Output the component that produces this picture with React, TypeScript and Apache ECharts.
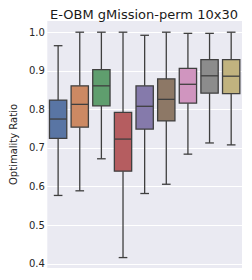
import React, { useEffect, useRef } from "react";
import * as echarts from "echarts";

const categories = ["A", "B", "C", "D", "E", "F", "G", "H", "I"];
const whiskerLow = [0.577, 0.589, 0.672, 0.416, 0.582, 0.606, 0.684, 0.713, 0.708];
const q1 = [0.725, 0.754, 0.809, 0.640, 0.749, 0.770, 0.816, 0.842, 0.841];
const median = [0.775, 0.813, 0.861, 0.723, 0.808, 0.826, 0.865, 0.887, 0.886];
const q3 = [0.824, 0.861, 0.903, 0.792, 0.861, 0.879, 0.906, 0.929, 0.929];
const whiskerHigh = [0.965, 1.0, 1.0, 1.0, 0.992, 1.0, 0.997, 0.997, 1.0];
const colors = ["#5975a4", "#cc8963", "#5f9e6e", "#b55d60", "#857aab", "#8d7866", "#d095bf", "#8c8c8c", "#c1b37f"];
const yTicks = [0.4, 0.5, 0.6, 0.7, 0.8, 0.9, 1.0];

export default function App() {
  const ref = useRef<HTMLDivElement>(null);
  useEffect(() => {
    document.body.style.margin = "0";
    if (!ref.current) return;
    const chart = echarts.init(ref.current, null, { renderer: "svg" });
    const data = categories.map((_, i) => [i, whiskerLow[i], q1[i], median[i], q3[i], whiskerHigh[i]]);
    const edge = "#3f3f3f";
    chart.setOption({
      animation: false,
      title: {
        text: "E-OBM gMission-perm 10x30",
        left: 139,
        textAlign: "center",
        top: 3,
        textStyle: { fontFamily: "DejaVu Sans", fontSize: 13, fontWeight: "normal", color: "#1a1a1a" },
      },
      grid: { left: 38, right: 10, top: 21, bottom: 12, show: true, backgroundColor: "#EAEAF2", borderWidth: 0 },
      xAxis: {
        type: "category",
        data: categories,
        axisLine: { show: false },
        axisTick: { show: false },
        axisLabel: { show: false },
        splitLine: { show: false },
      },
      yAxis: {
        type: "value",
        min: 0.389,
        max: 1.029,
        name: "Optimality Ratio",
        nameLocation: "middle",
        nameGap: 24,
        nameTextStyle: { fontFamily: "DejaVu Sans", fontSize: 10, color: "#262626" },
        axisLine: { show: false },
        axisTick: { show: false, customValues: yTicks },
        axisLabel: {
          customValues: yTicks,
          formatter: (v: number) => v.toFixed(1),
          fontFamily: "DejaVu Sans",
          fontSize: 10,
          color: "#262626",
          margin: 2.5,
        },
        splitLine: { show: true, lineStyle: { color: "#ffffff", width: 1 } },
      },
      series: [
        {
          type: "custom",
          data,
          renderItem: (params: any, api: any) => {
            const i = api.value(0);
            const band = api.size([1, 0])[0];
            const w = band * 0.8;
            const cap = w / 2;
            const [cx, yLow] = api.coord([i, api.value(1)]);
            const yQ1 = api.coord([i, api.value(2)])[1];
            const yMed = api.coord([i, api.value(3)])[1];
            const yQ3 = api.coord([i, api.value(4)])[1];
            const yHigh = api.coord([i, api.value(5)])[1];
            const ls = { stroke: edge, lineWidth: 1.3 };
            return {
              type: "group",
              children: [
                { type: "line", shape: { x1: cx, y1: yQ1, x2: cx, y2: yLow }, style: ls },
                { type: "line", shape: { x1: cx, y1: yQ3, x2: cx, y2: yHigh }, style: ls },
                { type: "line", shape: { x1: cx - cap / 2, y1: yLow, x2: cx + cap / 2, y2: yLow }, style: ls },
                { type: "line", shape: { x1: cx - cap / 2, y1: yHigh, x2: cx + cap / 2, y2: yHigh }, style: ls },
                {
                  type: "rect",
                  shape: { x: cx - w / 2, y: yQ3, width: w, height: yQ1 - yQ3 },
                  style: { fill: colors[i], stroke: edge, lineWidth: 1.3 },
                },
                { type: "line", shape: { x1: cx - w / 2, y1: yMed, x2: cx + w / 2, y2: yMed }, style: ls },
              ],
            };
          },
        },
      ],
    });
    return () => chart.dispose();
  }, []);
  return <div ref={ref} style={{ width: 252, height: 280 }} />;
}
